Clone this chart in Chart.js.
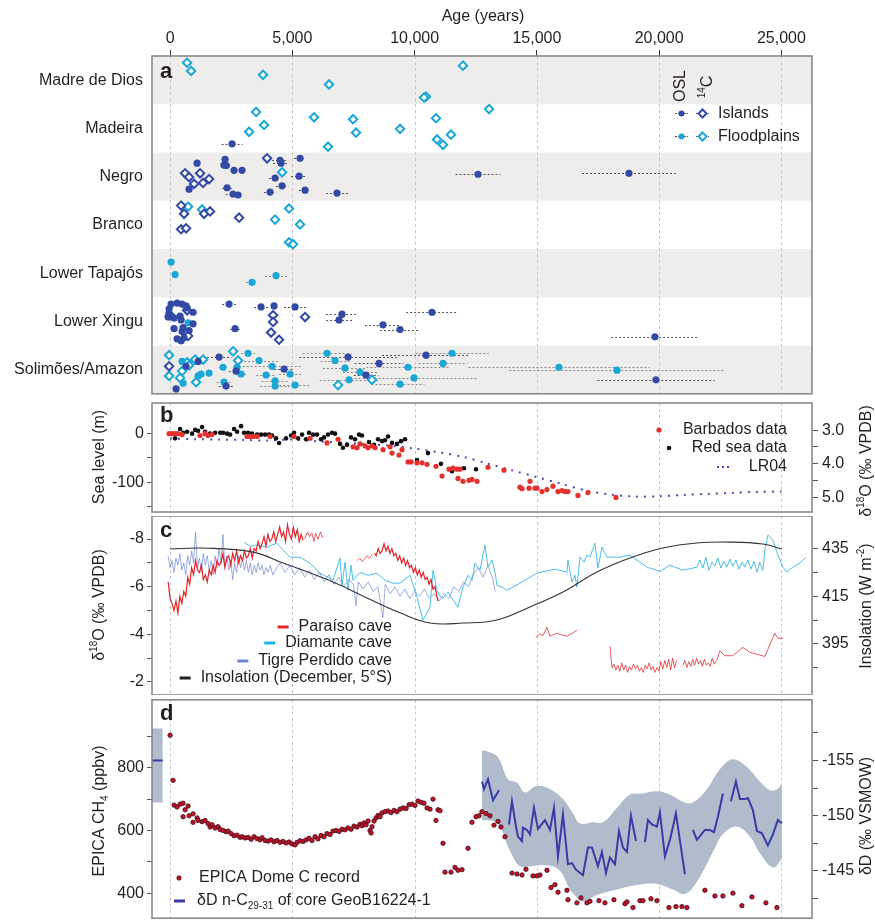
<!DOCTYPE html>
<html>
<head>
<meta charset="utf-8">
<script src="https://cdn.jsdelivr.net/npm/chart.js@4.4.1/dist/chart.umd.min.js"></script>
<style>
  body { margin: 0; background: #fff; }
  #wrap { position: relative; width: 875px; height: 923px; overflow: hidden; }
  canvas { position: absolute; left: 0; }
</style>
</head>
<body>
<div id="wrap">
  <canvas id="chartA" width="875" height="400" style="top:0px"></canvas>
  <canvas id="chartB" width="875" height="117" style="top:399px"></canvas>
  <canvas id="chartC" width="875" height="179" style="top:516px"></canvas>
  <canvas id="chartD" width="875" height="228" style="top:695px"></canvas>
</div>
<script>
// ---- data ----
const rows = ['Madre de Dios', 'Madeira', 'Negro', 'Branco', 'Lower Tapajós', 'Lower Xingu', 'Solimões/Amazon'];
const ageTicks = [0, 5000, 10000, 15000, 20000, 25000];

// [age, row, position inside row (0 top .. 1 bottom), +/- error]
const oslIslands = [
  [2535,1,.82,430],
  [1104,2,.22,0],[2248,2,.14,0],[2200,2,.26,0],[2300,2,.27,0],[2616,2,.37,0],[2943,2,.37,0],[4497,2,.16,330],[4538,2,.22,330],
  [5314,2,.12,250],[4292,2,.53,250],[5274,2,.49,330],[4579,2,.69,250],[5519,2,.78,250],[4088,2,.82,250],[6827,2,.84,450],
  [2330,2,.73,200],[2575,2,.86,300],[2780,2,.88,0],[777,2,.76,0],[12591,2,.45,920],[18764,2,.43,1920],
  [41,5,.14,0],[286,5,.12,0],[490,5,.14,0],[654,5,.18,0],[695,5,.22,0],[-41,5,.24,0],[-41,5,.33,0],[-82,5,.41,0],[164,5,.43,0],
  [409,5,.39,0],[450,5,.47,0],[940,5,.31,0],[940,5,.55,0],[164,5,.65,0],[531,5,.63,0],[490,5,.71,0],[777,5,.69,0],[286,5,.86,0],
  [450,5,.90,0],[572,5,.84,0],
  [2412,5,.14,290],[3720,5,.20,290],[4252,5,.18,0],[5110,5,.20,450],[2657,5,.65,200],[7031,5,.35,650],[6909,5,.47,530],
  [8707,5,.57,740],[9402,5,.67,820],[10711,5,.31,1060],[19827,5,.82,1790],
  [245,6,.90,0],[654,6,.43,0],[1145,6,.33,0],[2003,6,.24,500],[2698,6,.53,300],[2289,6,.84,300],[4660,6,.49,400],
  [7277,6,.24,2000],[8012,6,.61,500],[8544,6,.37,1000],[10465,6,.20,1800],[19868,6,.71,2400]
];
const oslFloodplains = [
  [41,4,.27,0],[204,4,.53,0],[4333,4,.55,450],[3352,4,.69,250],
  [736,5,.53,0],
  [490,6,.33,0],[531,6,.78,0],[1145,6,.63,0],[1267,6,.59,0],[1594,6,.57,0],[2167,6,.45,150],[2739,6,.45,150],[2903,6,.59,200],
  [3189,6,.16,280],[3638,6,.31,780],[4170,6,.43,1200],[3924,6,.61,400],[4906,6,.59,450],[4292,6,.73,550],[4292,6,.84,600],
  [5110,6,.82,650],[2208,6,.76,300],[6418,6,.16,1000],[6745,6,.31,600],[7154,6,.47,900],[7767,6,.55,700],[7317,6,.71,1200],
  [9402,6,.80,1000],[9729,6,.45,1700],[9974,6,.67,2600],[11160,6,.37,1000],[11528,6,.16,1500],[15902,6,.45,3700],[18273,6,.51,4400]
];
const c14Islands = [
  [613,2,.43],[777,2,.51],[1226,2,.43],[981,2,.65],[1349,2,.63],[1594,2,.55],[3965,2,.12],
  [450,3,.10],[572,3,.27],[1390,3,.27],[1635,3,.22],[2821,3,.35],[450,3,.59],[654,3,.57],
  [695,5,.27],[736,5,.80],[0,5,.37],[4211,5,.37],[4211,5,.51],[4129,5,.73],[4456,5,.88],[5519,5,.41],
  [-41,6,.43]
];
const c14Floodplains = [
  [695,0,.14],[858,0,.31],[3802,0,.39],[6500,0,.59],[10465,0,.84],[10383,0,.86],[11978,0,.2],
  [3516,1,.16],[5887,1,.27],[7481,1,.31],[3843,1,.43],[3230,1,.57],[7604,1,.59],[9402,1,.51],[6459,1,.88],[10874,1,.29],
  [13041,1,.10],[11487,1,.63],[10915,1,.73],[11160,1,.84],
  [4579,2,.41],
  [736,3,.12],[1308,3,.18],[4865,3,.16],[4292,3,.39],[5314,3,.49],[4865,3,.86],[5028,3,.90],
  [-41,6,.2],[-41,6,.63],[490,6,.53],[409,6,.67],[695,6,.35],[777,6,.41],[1022,6,.29],[1349,6,.29],[1063,6,.76],
  [2575,6,.12],[2780,6,.31],[8258,6,.71],[6868,6,.82]
];

// panel b: [age, sea level m] and [age, d18O]
const barbados = [
  [-41,0],[82,0],[204,0],[327,0],[490,-1.9],[1226,-3.8],[1431,0],[1553,-3.8],[1717,-1.9],[3148,-5.8],[3270,-5.8],[3393,-5.8],
  [3557,-5.8],[4088,-5.8],[5069,-5.8],[5723,-9.6],[6418,-19],[6868,-11.5],[7481,-27],[7645,-29],[7767,-21],[7972,-25],
  [8094,-29],[8258,-25],[8381,-29],[8708,-33],[8994,-27],[9075,-40],[9362,-44],[9484,-33],[9729,-58],[9852,-58],[10097,-60],
  [10302,-60],[10506,-63],[10874,-67],[11119,-87],[11405,-73],[11569,-71],[11733,-73],[11855,-73],[11774,-92],[11978,-98],
  [12223,-96],[12346,-94],[12550,-98],[13000,-69],[13654,-75],[14308,-110],[14390,-113],[14717,-98],[14676,-112],[14921,-112],
  [15003,-112],[15207,-119],[15412,-115],[15657,-108],[15862,-119],[16025,-117],[16148,-119],[16270,-119],[16679,-127],
  [17088,-121],[18233,-131]
];
const redSea = [
  [204,-9.6],[409,9.6],[531,1.9],[695,3.8],[899,0],[1022,7.7],[1145,5.8],[1308,13.5],[1431,3.8],[1635,0],[1840,1.9],[2044,1.9],
  [2167,1.9],[2330,0],[2453,-1.9],[2616,9.6],[2739,3.8],[2903,15.4],[3025,1.9],[3189,1.9],[3352,0],[3557,-1.9],[3720,-1.9],
  [3884,-1.9],[4047,-1.9],[4170,-3.8],[4333,-9.6],[4456,-19.2],[4742,-9.6],[4946,-3.8],[5069,1.9],[5233,-9.6],[5396,-1.9],
  [5560,-11.5],[5682,1.9],[5846,-1.9],[6009,-1.9],[6173,-11.5],[6296,-7.7],[6459,-1.9],[6623,1.9],[6745,0],[6950,-21],
  [7072,-29],[7236,-23],[7399,-7.7],[7563,-11.5],[7726,-1.9],[7849,-3.8],[8135,-17],[8340,-23],[8503,-11.5],[8667,-15.4],
  [8789,-13.5],[8912,-5.8],[9075,-19],[9280,-21],[9443,-15.4],[9607,-11.5],[10097,-54],[10547,-40],[11078,-62],[11528,-77],
  [12019,-71],[12509,-73]
];
const lr04 = [
  [0,3.25],[1000,3.27],[2000,3.28],[3000,3.29],[4000,3.31],[5000,3.28],[6000,3.33],[7000,3.37],[8000,3.42],[9000,3.46],
  [10000,3.55],[11000,3.66],[12000,3.8],[13000,4.0],[14000,4.2],[15000,4.4],[16000,4.6],[17000,4.8],[18000,4.92],[19000,4.98],
  [20000,4.97],[21000,4.93],[22000,4.9],[23000,4.87],[24000,4.84],[25000,4.83]
];

// panel c: [age, d18O] per cave segment, [age, W m-2] insolation
const paraiso1 = [
  [-80,-6.2],[0,-5.5],[80,-5.3],[160,-5.0],[240,-5.4],[320,-4.9],[400,-5.6],[480,-5.3],[560,-5.8],[640,-5.6],[720,-6.4],
  [800,-6.1],[880,-6.8],[960,-6.5],[1040,-7.1],[1120,-6.7],[1200,-6.6],[1280,-6.9],[1360,-6.3],[1440,-6.5],[1520,-6.2],
  [1600,-6.7],[1680,-6.5],[1760,-6.9],[1840,-6.6],[1920,-7.1],[2000,-6.9],[2080,-7.0],[2160,-7.4],[2240,-6.8],[2320,-7.2],
  [2400,-7.3],[2480,-6.9],[2560,-7.4],[2640,-7.1],[2720,-7.5],[2800,-7.0],[2880,-7.3],[2960,-7.1],[3040,-7.5],[3120,-7.2],
  [3200,-7.3],[3280,-7.6],[3360,-7.2],[3440,-7.6],[3520,-7.5],[3600,-7.9],[3680,-7.6],[3760,-7.8],[3840,-8.1],[3920,-7.7],
  [4000,-8.2],[4080,-7.9],[4160,-8.0],[4240,-8.3],[4320,-7.9],[4400,-8.2],[4480,-8.5],[4560,-8.1],[4640,-8.3],[4720,-7.9],
  [4800,-8.6],[4880,-8.2],[4960,-8.0],[5040,-8.5],[5120,-8.1],[5200,-8.4],[5280,-7.9],[5360,-8.2],[5440,-7.95]
];
const paraiso2 = [[5500,-8.0],[5620,-8.3],[5700,-8.1],[5800,-8.25],[5880,-7.9],[5950,-8.25],[6050,-8.0],[6150,-8.3],[6250,-8.05]];
const paraiso3 = [[7650,-7.1],[7750,-7.2],[7850,-7.05],[7950,-7.15],[8050,-7.3],[8150,-7.2],[8270,-7.35]];
const paraiso4 = [
  [8350,-7.4],[8430,-7.3],[8510,-7.6],[8590,-7.4],[8670,-7.5],[8750,-7.8],[8830,-7.5],[8910,-7.7],[8990,-7.4],[9070,-7.6],
  [9150,-7.3],[9230,-7.4],[9310,-7.1],[9390,-7.3],[9470,-7.0],[9550,-7.2],[9630,-6.9],[9710,-7.1],[9790,-6.8],[9870,-6.9],
  [9950,-6.6],[10030,-6.8],[10110,-6.5],[10190,-6.7],[10270,-6.4],[10350,-6.6],[10430,-6.3],[10510,-6.4],[10590,-6.1],
  [10670,-6.3],[10750,-5.9],[10830,-6.0],[10910,-5.6],[10960,-5.4]
];
const paraiso5 = [[14960,-3.87],[15100,-4.0],[15250,-3.95],[15410,-4.3],[15530,-3.92],[15700,-4.0],[15820,-4.04],[16000,-3.98],[16230,-3.92],[16450,-4.05],[16640,-4.17]];
const paraiso6 = [
  [17990,-3.5],[18070,-2.6],[18150,-2.75],[18230,-2.5],[18310,-2.7],[18390,-2.45],[18470,-2.8],[18550,-2.5],[18630,-2.7],
  [18710,-2.4],[18790,-2.65],[18870,-2.5],[18950,-2.75],[19030,-2.55],[19110,-2.7],[19190,-2.45],[19270,-2.6],[19350,-2.4],
  [19430,-2.7],[19510,-2.55],[19590,-2.8],[19670,-2.5],[19750,-2.65],[19830,-2.4],[19910,-2.6],[19990,-2.45],[20070,-2.85],
  [20150,-2.55],[20230,-2.9],[20310,-2.6],[20390,-2.95],[20470,-2.5],[20550,-3.0],[20630,-2.6],[20710,-2.9]
];
const paraiso7 = [
  [20970,-2.7],[21050,-2.9],[21130,-2.6],[21210,-2.85],[21290,-2.65],[21370,-2.95],[21450,-2.7],[21530,-3.0],[21610,-2.75],
  [21690,-2.9],[21770,-2.65],[21850,-2.95],[21930,-2.7],[22010,-2.8],[22090,-2.65],[22170,-3.0],[22250,-2.75],[22360,-2.9],
  [22480,-3.3],[22690,-3.1],[23010,-3.1],[23420,-3.45],[23700,-3.25],[24320,-3.07],[24730,-4.04],[24860,-3.83],[25060,-3.83]
];
const diamante = [
  [3025,-7.87],[3270,-7.7],[3557,-7.75],[3965,-7.66],[4374,-7.83],[4620,-7.54],[4906,-7.24],[5314,-7.24],[5723,-6.99],
  [6132,-6.57],[6663,-6.27],[6950,-7.2],[7031,-6.06],[7154,-7.03],[7277,-5.85],[7399,-6.9],[7481,-6.27],[7767,-6.6],
  [8094,-6.48],[8462,-6.57],[8789,-6.27],[9116,-6.15],[9402,-6.15],[9811,-6.48],[10097,-5.56],[10343,-4.59],[10629,-5.14],
  [10752,-6.69],[10915,-5.85],[11037,-5.6],[11160,-5.52],[11365,-5.77],[11569,-5.43],[11774,-5.14],[11978,-5.98],[12182,-6.48],
  [12346,-6.27],[12468,-6.99],[12673,-6.69],[12877,-7.75],[13000,-6.82],[13163,-7.12],[13286,-6.61],[13368,-6.06],[13572,-5.98],
  [13777,-5.85],[14308,-6.15],[15003,-6.57],[15739,-6.74],[16230,-6.61],[16270,-7.12],[16434,-6.19],[16557,-6.48],[16638,-5.98],
  [16761,-7.24],[16925,-7.03],[17047,-7.33],[17170,-7.24],[17374,-7.83],[17497,-6.78],[17660,-7.66],[17865,-7.24],[18396,-7.24],
  [18805,-7.33],[19500,-6.82],[20031,-6.65],[20440,-6.9],[20971,-6.69],[21544,-6.82],[21667,-7.12],[21789,-6.78],[21912,-7.24],
  [22035,-6.69],[22157,-7.03],[22280,-6.86],[22402,-7.2],[22525,-6.78],[22648,-7.07],[22770,-6.82],[22893,-7.16],[23015,-6.86],
  [23138,-7.12],[23261,-6.74],[23384,-7.03],[23506,-6.82],[23629,-7.12],[23752,-6.74],[23874,-7.07],[23997,-6.61],[24120,-7.03],
  [24242,-6.69],[24324,-7.54],[24446,-8.17],[24651,-7.96],[24855,-7.33],[25060,-6.82],[25223,-6.61],[25469,-6.82],[25755,-6.99],
  [26000,-7.24]
];
const tigre = [
  [-80,-7.3],[0,-6.8],[80,-7.1],[160,-6.6],[240,-7.2],[320,-6.9],[400,-7.4],[480,-6.7],[560,-7.0],[640,-6.5],[720,-7.3],
  [800,-6.9],[880,-7.5],[960,-7.0],[1040,-8.3],[1120,-6.8],[1200,-7.2],[1280,-6.6],[1360,-7.4],[1440,-6.9],[1520,-7.3],
  [1600,-6.7],[1680,-7.1],[1760,-6.5],[1840,-7.3],[1920,-6.8],[2000,-7.6],[2080,-7.0],[2160,-8.2],[2240,-6.9],[2320,-7.3],
  [2400,-6.7],[2480,-7.1],[2560,-6.3],[2640,-7.0],[2720,-6.6],[2800,-7.3],[2880,-6.8],[2960,-7.2],[3040,-6.7],[3120,-7.1],
  [3200,-6.6],[3280,-7.0],[3360,-6.5],[3440,-6.9],[3520,-6.6],[3600,-7.0],[3680,-6.7],[3760,-6.9],[3840,-6.5],[3920,-6.8],
  [4000,-6.6],[4100,-6.9],[4200,-6.5],[4300,-6.7],[4500,-7.0],[4700,-6.6],[4900,-6.9],[5100,-6.5],[5300,-6.8],[5500,-6.4],
  [5700,-6.7],[5900,-6.3],[6100,-6.6],[6300,-6.2],[6500,-6.5],[6700,-6.1],[6900,-6.4],[7100,-6.0],[7300,-6.3],[7500,-6.1],
  [7600,-5.2],[7700,-6.2],[7900,-5.9],[8100,-6.2],[8300,-5.8],[8500,-6.0],[8700,-4.7],[8800,-6.1],[9000,-5.7],[9200,-6.0],
  [9400,-5.6],[9600,-5.9],[9800,-5.5],[10000,-5.8],[10200,-5.6],[10400,-5.9],[10600,-5.5],[10800,-5.7],[11000,-5.4],
  [11200,-5.7],[11400,-5.5],[11600,-6.0],[11800,-5.8],[12000,-6.2],[12200,-6.0],[12400,-6.5],[12600,-6.8],[12800,-6.4],
  [13000,-6.9],[13200,-6.3],[13300,-5.8]
];
const insolation = [
  [0,435],[1349,435.4],[3393,433.7],[4620,429.1],[6663,421.1],[8053,414.4],[9402,408.1],[10629,403.8],[11978,403.8],
  [13368,405.1],[14717,410.6],[16066,416.9],[17456,425.3],[18805,431.2],[20154,435.4],[21544,437.5],[22893,437.9],
  [24242,437.1],[25019,435]
];

// panel d: [age, CH4 ppbv] and [age, dD permil]
const epicaCH4 = [
  [0,904],[122,760],[164,681],[286,675],[409,684],[531,687],[613,666],[736,678],[777,647],[531,644],[940,653],[940,626],
  [1104,640],[1145,632],[1308,628],[1431,632],[1553,622],[1635,611],[1717,618],[1840,608],[1962,612],[2044,603],[2167,600],
  [2289,596],[2371,598],[2494,590],[2616,583],[2739,585],[2862,578],[2944,580],[3066,576],[3189,578],[3311,572],[3434,580],
  [3557,574],[3680,570],[3761,577],[3884,568],[4006,566],[4129,570],[4252,564],[4374,568],[4497,562],[4620,565],[4742,560],
  [4865,563],[4987,557],[5110,554],[5192,562],[5314,567],[5437,565],[5560,570],[5682,575],[5805,568],[5927,580],[6050,573],
  [6173,584],[6295,580],[6418,590],[6541,587],[6663,598],[6786,600],[6909,597],[7031,604],[7154,602],[7277,608],[7399,604],
  [7522,614],[7645,611],[7768,620],[7850,615],[7932,624],[8013,618],[8095,630],[8177,600],[8218,592],[8258,612],[8340,630],
  [8422,640],[8503,648],[8585,644],[8667,656],[8790,660],[8912,662],[9035,657],[9157,664],[9280,660],[9402,668],[9525,672],
  [9648,670],[9770,682],[9893,684],[10015,680],[10138,694],[10261,690],[10383,687],[10506,672],[10629,668],[10752,700],
  [10874,632],[10956,666],[11038,663],[11160,559],[11243,467],[11488,467],[11651,482],[11774,473],[11937,475],[12182,543],
  [12346,626],[12510,644],[12632,647],[12754,660],[12918,654],[13081,647],[13245,617],[13408,629],[13531,611],[13694,580],
  [13981,464],[14185,461],[14390,458],[14553,476],[14840,455],[15003,455],[15126,458],[15412,473],[15576,418],[15739,427],
  [15862,403],[16230,409],[16270,379],[16638,369],[16802,385],[17047,369],[17170,374],[17538,376],[17783,369],[18151,379],
  [18601,366],[18683,372],[18928,354],[19214,376],[19337,376],[19664,382],[19909,376],[20400,354],[20686,357],[20931,357],
  [21135,354],[21871,409],[22280,391],[22607,391],[23016,400],[23384,360],[23793,388],[24366,369],[24816,354]
];
const dDcore = [
  [12755,-153.1],[12837,-152.4],[13000,-153.3],[13204,-151.4],[13450,-152.3],null,
  [13858,-149.2],[13981,-151.3],[14145,-149.0],[14226,-148.1],[14390,-147.7],[14431,-148.9],[14594,-148.7],[14717,-148.3],
  [14880,-150.7],[15044,-148.8],[15330,-149.6],[15534,-148.7],[15698,-150.7],[15861,-146.3],[16066,-150.1],[16270,-145.6],
  [16434,-145.7],[16597,-145.1],[16883,-144.6],[17088,-147.1],[17252,-147.1],[17497,-145.4],[17660,-146.7],[17824,-144.8],
  [17987,-146.2],[18192,-145.6],[18355,-148.6],[18519,-147.1],[18682,-146.7],[18846,-150.0],[19050,-147.7],null,
  [19418,-147.6],[19541,-149.6],[19704,-149.2],[19909,-149.0],[20031,-150.3],[20236,-146.3],[20440,-147.8],[20685,-150.2],
  [21053,-144.7],null,
  [21380,-148.7],[21544,-147.8],[21871,-148.7],[22075,-148.7],[22239,-148.5],[22402,-149.9],[22607,-152.0],null,
  [22934,-151.3],[23138,-153.1],[23302,-151.5],[23506,-151.5],[23629,-151.6],[23833,-150.5],[23997,-148.6],[24201,-148.4],
  [24446,-147.3],[24651,-148.3],[24855,-149.6],[25019,-149.3]
];
const dDbandTop = [
  [12755,-155.9],[13000,-155.8],[13409,-155.3],[13817,-153.3],[14185,-153.0],[14512,-152.1],[15003,-152.7],[15534,-152.4],
  [16066,-151.5],[16475,-150.2],[16761,-149.3],[17292,-149.4],[17701,-149.4],[18273,-150.7],[18805,-151.9],[19336,-152.0],
  [19909,-152.2],[20440,-151.9],[21053,-151.2],[21380,-151.2],[21953,-152.4],[22484,-154.2],[23015,-155.1],[23588,-154.4],
  [24037,-153.3],[24528,-152.3],[24814,-152.4],[25019,-152.9]
];
const dDbandBottom = [
  [12755,-149.6],[13368,-149.3],[13899,-146.8],[14308,-145.4],[14717,-145.4],[15412,-145.5],[15943,-145.0],[16352,-143.3],
  [16638,-142.6],[16883,-142.2],[17456,-142.8],[18273,-143.3],[19091,-143.7],[19909,-143.8],[20563,-143.3],[21053,-142.9],
  [21544,-144.0],[22198,-146.7],[22607,-148.3],[23179,-149.0],[23710,-148.1],[24119,-146.6],[24651,-145.3],[25019,-146.1]
];
// modern surface sample, drawn left of age 0
const dDmodern = [[-740,-155.0],[-300,-155.0]];
const dDmodernTop = [[-740,-157.9],[-300,-157.9]];
const dDmodernBottom = [[-740,-151.2],[-300,-151.2]];

// ---- helpers ----
const FONT = "'Liberation Sans', Arial, Helvetica, sans-serif";
Chart.defaults.font.family = FONT;
Chart.defaults.font.size = 16;
Chart.defaults.color = '#231f20';

const DARK = '#3349a6';
const CYAN = '#19a7d8';
const AGE_MIN = -740, AGE_MAX = 26250;

const xy = arr => arr.map(p => p === null ? {x: null, y: null} : {x: p[0], y: p[1]});
const rowPts = arr => arr.map(p => ({x: p[0], y: p[1] + p[2], err: p[3] || 0}));

function rich(ctx, parts, x, y, align, rot, size) {
  size = size || 16;
  ctx.save();
  ctx.translate(x, y);
  if (rot) ctx.rotate(rot);
  ctx.textBaseline = 'middle';
  ctx.textAlign = 'left';
  ctx.fillStyle = '#231f20';
  const fontFor = p => (p[1] ? Math.round(size * 0.62) : size) + 'px ' + FONT;
  const widths = parts.map(p => { ctx.font = fontFor(p); return ctx.measureText(p[0]).width; });
  const total = widths.reduce((a, b) => a + b, 0);
  let cx = align === 'right' ? -total : align === 'center' ? -total / 2 : 0;
  parts.forEach((p, i) => {
    ctx.font = fontFor(p);
    const dy = p[1] === 'sup' ? -size * 0.33 : p[1] === 'sub' ? size * 0.3 : 0;
    ctx.fillText(p[0], cx, dy);
    cx += widths[i];
  });
  ctx.restore();
  return total;
}

function letter(ctx, t, x, y) {
  ctx.save();
  ctx.font = 'bold 22px ' + FONT;
  ctx.fillStyle = '#231f20';
  ctx.textBaseline = 'alphabetic';
  ctx.fillText(t, x, y);
  ctx.restore();
}

function vgrid(chart) {
  const {ctx, chartArea: a, scales: {x}} = chart;
  ctx.save();
  ctx.strokeStyle = '#c6c6c6';
  ctx.lineWidth = 1;
  ctx.setLineDash([3, 3]);
  ageTicks.forEach(v => {
    const px = Math.round(x.getPixelForValue(v)) + 0.5;
    ctx.beginPath(); ctx.moveTo(px, a.top); ctx.lineTo(px, a.bottom); ctx.stroke();
  });
  ctx.restore();
}

function frame(chart) {
  const {ctx, chartArea: a} = chart;
  ctx.save();
  ctx.strokeStyle = '#8a8a8a';
  ctx.lineWidth = 1.6;
  ctx.strokeRect(a.left, a.top, a.right - a.left, a.bottom - a.top);
  ctx.restore();
}

function yAxis(pos, min, max, ticks, labels, width, reverse, fmt) {
  return {
    type: 'linear', position: pos, min: min, max: max, reverse: !!reverse,
    afterBuildTicks: s => { s.ticks = ticks.map(v => ({value: v})); },
    afterFit: s => { s.width = width; s.paddingTop = 0; s.paddingBottom = 0; },
    ticks: {
      autoSkip: false, padding: pos === 'left' ? 3 : 4, color: '#231f20',
      callback: v => labels.includes(v) ? (fmt ? fmt(v) : String(v)) : ''
    },
    grid: { drawOnChartArea: false, drawTicks: true, tickLength: pos === 'left' ? 5 : 6, tickColor: '#555', tickWidth: 1 },
    border: { display: false }
  };
}

const hiddenX = {
  type: 'linear', min: AGE_MIN, max: AGE_MAX, display: false,
  afterFit: s => { s.height = 0; s.paddingLeft = 0; s.paddingRight = 0; }
};

function baseOptions(scales, padding, plugins) {
  return {
    responsive: false, animation: false, devicePixelRatio: 1, events: [],
    layout: { padding: padding },
    plugins: Object.assign({ legend: { display: false }, tooltip: { enabled: false } }, plugins || {}),
    scales: scales
  };
}

// ---- panel a ----
const errorBars = {
  id: 'errorBars',
  beforeDatasetsDraw(chart) {
    const {ctx, scales: {x, y}} = chart;
    ctx.save();
    ctx.setLineDash([2, 2]);
    ctx.lineWidth = 1;
    chart.data.datasets.forEach(ds => {
      ctx.strokeStyle = ds.errColor || '#666';
      ds.data.forEach(p => {
        if (!p.err) return;
        const py = Math.round(y.getPixelForValue(p.y)) + 0.5;
        ctx.beginPath();
        ctx.moveTo(x.getPixelForValue(p.x - p.err), py);
        ctx.lineTo(x.getPixelForValue(p.x + p.err), py);
        ctx.stroke();
      });
    });
    ctx.restore();
  }
};

const decoA = {
  id: 'decoA',
  beforeDraw(chart) {
    const {ctx, chartArea: a, scales: {y}} = chart;
    ctx.save();
    ctx.fillStyle = '#eeedeb';
    for (let i = 0; i < rows.length; i += 2) {
      const t = y.getPixelForValue(i), b = y.getPixelForValue(i + 1);
      ctx.fillRect(a.left, t, a.right - a.left, b - t);
    }
    ctx.restore();
  },
  beforeDatasetsDraw(chart) { vgrid(chart); },
  afterDraw(chart) {
    const ctx = chart.ctx;
    frame(chart);
    letter(ctx, 'a', 160, 78);
    rich(ctx, [['Age (years)', '']], 483, 17, 'center');
    // legend
    rich(ctx, [['OSL', '']], 681, 86, 'center', -Math.PI / 2);
    rich(ctx, [['14', 'sup'], ['C', '']], 708, 87, 'center', -Math.PI / 2);
    [[113, DARK, 'Islands'], [136, CYAN, 'Floodplains']].forEach(([ly, col, txt]) => {
      ctx.save();
      ctx.strokeStyle = '#555'; ctx.lineWidth = 1; ctx.setLineDash([2, 1]);
      ctx.beginPath(); ctx.moveTo(675, ly + 0.5); ctx.lineTo(688, ly + 0.5); ctx.stroke();
      ctx.beginPath(); ctx.moveTo(696, ly + 0.5); ctx.lineTo(709, ly + 0.5); ctx.stroke();
      ctx.setLineDash([]);
      ctx.fillStyle = col;
      ctx.beginPath(); ctx.arc(681.5, ly + 0.5, 3, 0, Math.PI * 2); ctx.fill();
      ctx.fillStyle = '#fff'; ctx.strokeStyle = col; ctx.lineWidth = 2;
      ctx.beginPath(); ctx.moveTo(702.5, ly - 3.5); ctx.lineTo(706.5, ly + 0.5); ctx.lineTo(702.5, ly + 4.5); ctx.lineTo(698.5, ly + 0.5); ctx.closePath();
      ctx.fill(); ctx.stroke();
      ctx.restore();
      rich(ctx, [[txt, '']], 718, ly + 1, 'left');
    });
  }
};

new Chart(document.getElementById('chartA'), {
  type: 'scatter',
  data: {
    datasets: [
      { data: rowPts(oslIslands), pointStyle: 'circle', pointRadius: 3.6, backgroundColor: DARK, borderColor: DARK, borderWidth: 0, errColor: '#555' },
      { data: rowPts(oslFloodplains), pointStyle: 'circle', pointRadius: 3.6, backgroundColor: CYAN, borderColor: CYAN, borderWidth: 0, errColor: '#8a8a8a' },
      { data: rowPts(c14Islands), pointStyle: 'rectRot', pointRadius: 4.2, backgroundColor: '#fff', borderColor: DARK, borderWidth: 2 },
      { data: rowPts(c14Floodplains), pointStyle: 'rectRot', pointRadius: 4.2, backgroundColor: '#fff', borderColor: CYAN, borderWidth: 2 }
    ]
  },
  options: baseOptions({
    x: {
      type: 'linear', position: 'top', min: AGE_MIN, max: AGE_MAX,
      afterBuildTicks: s => { s.ticks = ageTicks.map(v => ({value: v})); },
      afterFit: s => { s.height = 56; s.paddingLeft = 0; s.paddingRight = 0; },
      ticks: { autoSkip: false, maxRotation: 0, padding: 2, color: '#231f20', callback: v => v.toLocaleString('en-US') },
      grid: { drawOnChartArea: false, drawTicks: true, tickLength: 6, tickColor: '#333' },
      border: { display: false }
    },
    y: {
      type: 'linear', position: 'left', min: 0, max: rows.length, reverse: true,
      afterBuildTicks: s => { s.ticks = rows.map((r, i) => ({value: i + 0.5})); },
      afterFit: s => { s.width = 152; s.paddingTop = 0; s.paddingBottom = 0; },
      ticks: { autoSkip: false, padding: 9, color: '#231f20', callback: v => rows[Math.floor(v)] },
      grid: { drawOnChartArea: false, drawTicks: false },
      border: { display: false }
    }
  }, { left: 0, right: 63, top: 0, bottom: 1 }),
  plugins: [decoA, errorBars]
});

// ---- panel b ----
const decoB = {
  id: 'decoB',
  beforeDatasetsDraw(chart) { vgrid(chart); },
  afterDraw(chart) {
    const ctx = chart.ctx;
    frame(chart);
    letter(ctx, 'b', 160, 23);
    rich(ctx, [['Sea level (m)', '']], 100, 58, 'center', -Math.PI / 2);
    rich(ctx, [['δ', ''], ['18', 'sup'], ['O (‰ VPDB)', '']], 867, 62, 'center', -Math.PI / 2);
    ctx.save();
    ctx.fillStyle = '#e5312d'; ctx.beginPath(); ctx.arc(659, 31, 2.6, 0, Math.PI * 2); ctx.fill();
    ctx.fillStyle = '#111'; ctx.beginPath(); ctx.arc(669, 49, 2.3, 0, Math.PI * 2); ctx.fill();
    ctx.fillStyle = '#4a4ab8';
    [717, 722, 727].forEach(dx => ctx.fillRect(dx, 67, 2, 2));
    ctx.restore();
    rich(ctx, [['Barbados data', '']], 787, 31, 'right');
    rich(ctx, [['Red sea data', '']], 787, 49, 'right');
    rich(ctx, [['LR04', '']], 787, 68, 'right');
  }
};

new Chart(document.getElementById('chartB'), {
  type: 'scatter',
  data: {
    datasets: [
      { data: xy(barbados), pointRadius: 2.6, backgroundColor: '#e5312d', borderWidth: 0 },
      { data: xy(redSea), pointRadius: 2.3, backgroundColor: '#111', borderWidth: 0 },
      { data: xy(lr04), yAxisID: 'y2', showLine: true, pointRadius: 0, borderColor: '#4a4ab8', borderWidth: 2, borderDash: [2, 6], tension: 0.3 }
    ]
  },
  options: baseOptions({
    x: hiddenX,
    y: yAxis('left', -161, 63, [-150, -100, -50, 0], [0, -100], 152),
    y2: yAxis('right', 2.19, 5.44, [3, 3.5, 4, 4.5, 5], [3, 4, 5], 63, true, v => v.toFixed(1))
  }, 0),
  plugins: [decoB]
});

// ---- panel c ----
const decoC = {
  id: 'decoC',
  beforeDatasetsDraw(chart) { vgrid(chart); },
  afterDraw(chart) {
    const ctx = chart.ctx;
    frame(chart);
    letter(ctx, 'c', 160, 21);
    rich(ctx, [['δ', ''], ['18', 'sup'], ['O (‰ VPDB)', '']], 100, 89, 'center', -Math.PI / 2);
    rich(ctx, [['Insolation (W m', ''], ['-2', 'sup'], [')', '']], 867, 90, 'center', -Math.PI / 2);
    [[111, '#e1262b', 'Paraíso cave'], [127, '#1fb2e0', 'Diamante cave'],
     [145, '#6f86d2', 'Tigre Perdido cave'], [162, '#231f20', 'Insolation (December, 5°S)']].forEach(([ly, col, txt]) => {
      const w = rich(ctx, [[txt, '']], 392, ly, 'right');
      const sx = 392 - w - 10;
      ctx.save();
      ctx.strokeStyle = col; ctx.lineWidth = 3;
      ctx.beginPath(); ctx.moveTo(sx - 11, ly); ctx.lineTo(sx, ly); ctx.stroke();
      ctx.restore();
    });
  }
};

const caveLine = (data, color, width) => ({
  data: xy(data), showLine: true, pointRadius: 0, borderColor: color, borderWidth: width, tension: 0
});

new Chart(document.getElementById('chartC'), {
  type: 'scatter',
  data: {
    datasets: [
      Object.assign(caveLine(insolation, '#333', 1.1), { yAxisID: 'y2', tension: 0.4 }),
      caveLine(paraiso1, '#e1262b', 1.2),
      caveLine(paraiso2, 'rgba(225,38,43,0.8)', 0.9),
      caveLine(paraiso3, 'rgba(225,38,43,0.8)', 0.9),
      caveLine(paraiso4, '#e1262b', 1.2),
      caveLine(paraiso5, 'rgba(225,38,43,0.85)', 0.9),
      caveLine(paraiso6, 'rgba(225,38,43,0.85)', 0.9),
      caveLine(paraiso7, 'rgba(225,38,43,0.85)', 0.9),
      caveLine(diamante, 'rgba(45,180,225,0.85)', 1),
      caveLine(tigre, 'rgba(95,118,205,0.6)', 1)
    ]
  },
  options: baseOptions({
    x: hiddenX,
    y: yAxis('left', -8.97, -1.45, [-8, -7, -6, -5, -4, -3, -2], [-8, -6, -4, -2], 152, true),
    y2: yAxis('right', 373.5, 448.9, [385, 395, 405, 415, 425, 435], [395, 415, 435], 63)
  }, 0),
  plugins: [decoC]
});

// ---- panel d ----
const decoD = {
  id: 'decoD',
  beforeDatasetsDraw(chart) { vgrid(chart); },
  afterDraw(chart) {
    const ctx = chart.ctx;
    frame(chart);
    letter(ctx, 'd', 160, 25);
    rich(ctx, [['EPICA CH', ''], ['4', 'sub'], [' (ppbv)', '']], 100, 116, 'center', -Math.PI / 2);
    rich(ctx, [['δD (‰ VSMOW)', '']], 867, 121, 'center', -Math.PI / 2);
    ctx.save();
    ctx.fillStyle = '#c8102e'; ctx.strokeStyle = '#3a1010'; ctx.lineWidth = 0.8;
    ctx.beginPath(); ctx.arc(179, 183, 2.2, 0, Math.PI * 2); ctx.fill(); ctx.stroke();
    ctx.strokeStyle = '#3b3ba8'; ctx.lineWidth = 3;
    ctx.beginPath(); ctx.moveTo(174, 206); ctx.lineTo(185, 206); ctx.stroke();
    ctx.restore();
    rich(ctx, [['EPICA Dome C record', '']], 199, 183, 'left');
    rich(ctx, [['δD n-C', ''], ['29-31', 'sub'], [' of core GeoB16224-1', '']], 197, 206, 'left');
  }
};

const BAND = '#b0bccb';
new Chart(document.getElementById('chartD'), {
  type: 'scatter',
  data: {
    datasets: [
      { data: xy(epicaCH4), pointRadius: 2.2, backgroundColor: '#c8102e', borderColor: '#3a1010', borderWidth: 0.8 },
      { data: xy(dDcore), yAxisID: 'y2', showLine: true, spanGaps: false, pointRadius: 0, borderColor: '#3b3ba8', borderWidth: 2 },
      { data: xy(dDmodern), yAxisID: 'y2', showLine: true, pointRadius: 0, borderColor: '#3b3ba8', borderWidth: 2 },
      { data: xy(dDbandTop), yAxisID: 'y2', showLine: true, pointRadius: 0, borderWidth: 0, borderColor: BAND, tension: 0.4 },
      { data: xy(dDbandBottom), yAxisID: 'y2', showLine: true, pointRadius: 0, borderWidth: 0, borderColor: BAND, backgroundColor: BAND, tension: 0.4, fill: 3 },
      { data: xy(dDmodernTop), yAxisID: 'y2', showLine: true, pointRadius: 0, borderWidth: 0, borderColor: BAND },
      { data: xy(dDmodernBottom), yAxisID: 'y2', showLine: true, pointRadius: 0, borderWidth: 0, borderColor: BAND, backgroundColor: BAND, fill: 5 }
    ]
  },
  options: baseOptions({
    x: hiddenX,
    y: yAxis('left', 320, 1017, [400, 500, 600, 700, 800, 900], [400, 600, 800], 152),
    y2: yAxis('right', -160.5, -140.7, [-157.5, -155, -152.5, -150, -147.5, -145, -142.5], [-155, -150, -145], 63, true)
  }, 0),
  plugins: [decoD]
});
</script>
</body>
</html>
